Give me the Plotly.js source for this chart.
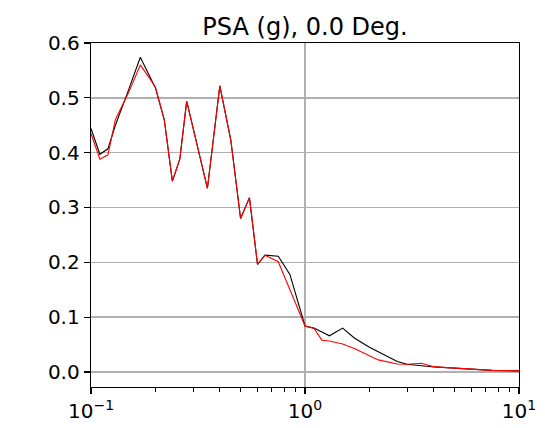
<!DOCTYPE html>
<html>
<head>
<meta charset="utf-8">
<script src="https://cdn.plot.ly/plotly-3.0.1.min.js"></script>
<style>
  html, body { margin: 0; padding: 0; background: #ffffff; }
  #chart { width: 545px; height: 428px; }
</style>
</head>
<body>
<div id="chart"></div>
<script>
// Spectral periods (s)
const periods = [0.1, 0.11, 0.12, 0.13, 0.15, 0.17, 0.2, 0.22, 0.24, 0.26, 0.28, 0.35,
                 0.4, 0.45, 0.5, 0.55, 0.6, 0.65, 0.75, 0.85, 1.0, 1.1, 1.2, 1.3,
                 1.5, 1.7, 2.0, 2.2, 2.7, 3.0, 3.5, 4.0, 5.0, 6.0, 7.5, 10];

// Pseudo-spectral acceleration (g), recorded
const psaRecorded = [0.444, 0.397, 0.407, 0.45, 0.515, 0.574, 0.518, 0.46, 0.348, 0.388, 0.494, 0.335,
                     0.522, 0.423, 0.28, 0.318, 0.196, 0.213, 0.211, 0.178, 0.084, 0.080, 0.073, 0.066,
                     0.080, 0.062, 0.045, 0.037, 0.019, 0.014, 0.011, 0.009, 0.007, 0.005, 0.003, 0.002];

// Pseudo-spectral acceleration (g), matched
const psaMatched = [0.435, 0.388, 0.396, 0.46, 0.51, 0.56, 0.52, 0.46, 0.348, 0.388, 0.494, 0.335,
                    0.522, 0.423, 0.28, 0.318, 0.196, 0.213, 0.201, 0.15, 0.084, 0.080, 0.058, 0.0565,
                    0.051, 0.043, 0.029, 0.022, 0.0146, 0.014, 0.016, 0.0097, 0.007, 0.005, 0.003, 0.002];

const xTickVals = [0.1, 1, 10];
const xTickText = ['10<sup>\u22121</sup>', '10<sup>0</sup>', '10<sup>1</sup>'];
const xMinorVals = [0.2, 0.3, 0.4, 0.5, 0.6, 0.7, 0.8, 0.9, 2, 3, 4, 5, 6, 7, 8, 9];
const yTickVals = [0.0, 0.1, 0.2, 0.3, 0.4, 0.5, 0.6];

const font = 'DejaVu Sans, sans-serif';

const traces = [
  {
    x: periods, y: psaRecorded, type: 'scatter', mode: 'lines',
    line: { color: '#000000', width: 1.1 }, hoverinfo: 'skip'
  },
  {
    x: periods, y: psaMatched, type: 'scatter', mode: 'lines',
    line: { color: '#ff0000', width: 1.1 }, hoverinfo: 'skip'
  }
];

const layout = {
  width: 545, height: 428,
  margin: { l: 91, r: 26, t: 43, b: 41, pad: 0 },
  paper_bgcolor: '#ffffff', plot_bgcolor: '#ffffff',
  showlegend: false,
  font: { family: font, color: '#000000', size: 20 },
  title: {
    text: 'PSA (g), 0.0 Deg.',
    font: { family: font, size: 24, color: '#000000' },
    x: 0.5, xref: 'paper', xanchor: 'center',
    y: 1, yref: 'paper', yanchor: 'bottom', pad: { b: 8 }
  },
  xaxis: {
    type: 'log', range: [-1, 1],
    tickmode: 'array', tickvals: xTickVals, ticktext: xTickText,
    ticks: 'outside', ticklen: 6, tickwidth: 1.2, tickcolor: '#000000',
    showgrid: true, gridcolor: '#b0b0b0', gridwidth: 1.4,
    showline: true, linecolor: '#000000', linewidth: 1.3, mirror: true,
    zeroline: false,
    tickfont: { family: font, size: 20, color: '#000000' },
    minor: { tickmode: 'array', tickvals: xMinorVals, ticks: 'outside', ticklen: 3.5,
             tickwidth: 1, tickcolor: '#000000', showgrid: false }
  },
  yaxis: {
    range: [-0.0274, 0.6],
    tickmode: 'array', tickvals: yTickVals, tickformat: '.1f',
    ticks: 'outside', ticklen: 6, tickwidth: 1.2, tickcolor: '#000000',
    showgrid: true, gridcolor: '#b0b0b0', gridwidth: 1.4,
    showline: true, linecolor: '#000000', linewidth: 1.3, mirror: true,
    zeroline: false,
    tickfont: { family: font, size: 20, color: '#000000' }
  }
};

Plotly.newPlot('chart', traces, layout, { staticPlot: true, displayModeBar: false });
</script>
</body>
</html>
